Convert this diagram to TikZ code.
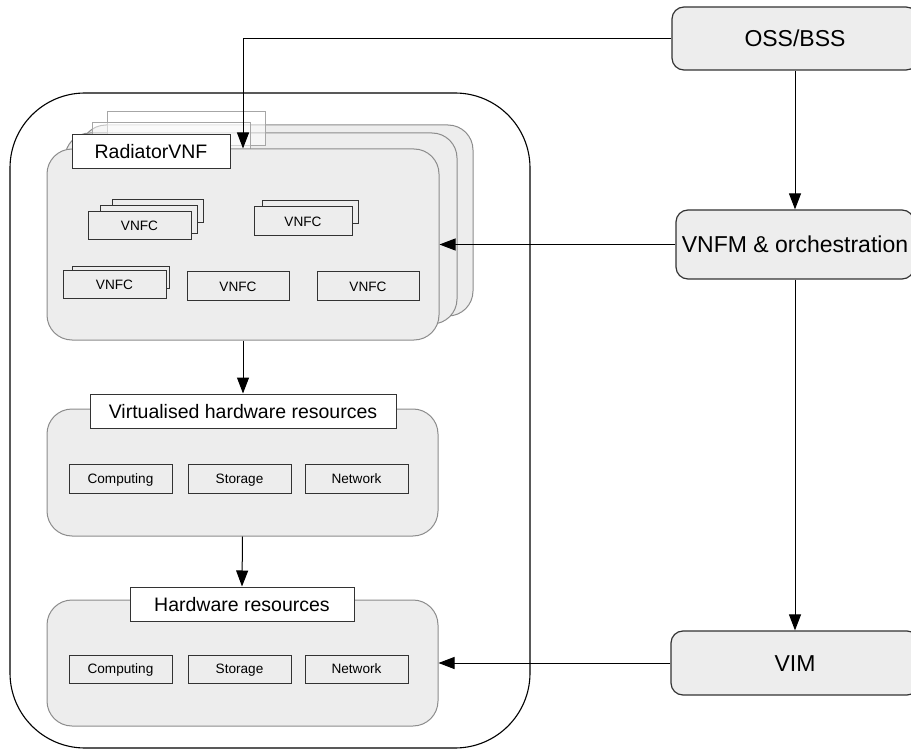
\documentclass[tikz,border=0pt]{standalone}
\usepackage{fontspec}
\setmainfont{Liberation Sans}
\usetikzlibrary{arrows.meta,positioning}
\definecolor{boxgray}{HTML}{EDEDED}
\definecolor{edgegray}{HTML}{8C8C8C}
\tikzset{
  frame/.style={draw=black, line width=1.1pt, rounded corners=75pt, inner sep=0pt},
  layer/.style={draw=edgegray, fill=boxgray, line width=1pt, rounded corners=25pt, inner sep=0pt},
  ctrl/.style={draw=black!80, fill=boxgray, line width=1.2pt, rounded corners=12pt, inner sep=0pt, text height=18pt, text depth=1.5pt, font=\fontsize{23}{27}\selectfont},
  tag/.style={draw=black!80, fill=white, line width=1pt, inner sep=0pt, text height=15.5pt, text depth=1.5pt, font=\fontsize{19.5}{23}\selectfont},
  oldtag/.style={draw=black!35, fill=white, fill opacity=0.5, line width=1pt, inner sep=0pt},
  res/.style={draw=black!80, fill=boxgray, line width=1pt, inner sep=0pt, text height=11pt, text depth=1.2pt, font=\fontsize{13.6}{16}\selectfont},
  link/.style={-{Triangle[length=16pt,width=12pt]}, line width=1pt}
}
\begin{document}
\begin{tikzpicture}[x=1pt,y=-1pt]
\useasboundingbox (0,0) rectangle (911,754);
\node[frame, minimum width=520pt, minimum height=655pt] (nfvi) at (270,420.5) {};
\node[layer, minimum width=392pt, minimum height=191pt] (vnfc) at (277,220.5) {};
\node[layer, minimum width=392pt, minimum height=191pt] (vnfb) at (261,228.5) {};
\node[oldtag, minimum width=158pt, minimum height=34pt] (tagc) at (186,129) {};
\node[oldtag, minimum width=158pt, minimum height=34pt] (tagb) at (171,140) {};
\node[layer, minimum width=392pt, minimum height=191pt] (vnf) at (243,244.5) {};
\node[tag, minimum width=158pt, minimum height=34pt] (vnftag) at (151,152) {RadiatorVNF};
\node[res, minimum width=91pt, minimum height=23pt] (c1b) at (157.5,211.5) {};
\node[res, minimum width=97pt, minimum height=28pt] (c1a) at (148.5,220) {};
\node[res, minimum width=103pt, minimum height=28pt] (c1) at (139.5,226) {VNFC};
\node[res, minimum width=96pt, minimum height=23pt] (c2a) at (310,212.5) {};
\node[res, minimum width=98pt, minimum height=29pt] (c2) at (303,221.5) {VNFC};
\node[res, minimum width=97pt, minimum height=22pt] (c3a) at (120.5,278) {};
\node[res, minimum width=103pt, minimum height=28pt] (c3) at (114.5,285) {VNFC};
\node[res, minimum width=102pt, minimum height=29pt] (c4) at (238,286.5) {VNFC};
\node[res, minimum width=102pt, minimum height=29pt] (c5) at (368,286.5) {VNFC};
\node[layer, minimum width=391pt, minimum height=127pt] (virt) at (242.5,472.5) {};
\node[tag, minimum width=306pt, minimum height=34pt] (virttag) at (243,411) {Virtualised hardware resources};
\node[res, minimum width=103pt, minimum height=29pt] (vcomp) at (120.5,478.5) {Computing};
\node[res, minimum width=103pt, minimum height=29pt] (vstor) at (239.5,478.5) {Storage};
\node[res, minimum width=103pt, minimum height=29pt] (vnet) at (356.5,478.5) {Network};
\node[layer, minimum width=391pt, minimum height=126pt] (hw) at (242.5,663) {};
\node[tag, minimum width=224pt, minimum height=34pt] (hwtag) at (242,604) {Hardware resources};
\node[res, minimum width=103pt, minimum height=28pt] (hcomp) at (120.5,669) {Computing};
\node[res, minimum width=103pt, minimum height=28pt] (hstor) at (239.5,669) {Storage};
\node[res, minimum width=103pt, minimum height=28pt] (hnet) at (356.5,669) {Network};
\node[ctrl, minimum width=246pt, minimum height=63pt] (oss) at (795,38.5) {OSS/BSS};
\node[ctrl, minimum width=238pt, minimum height=69pt] (vnfm) at (795,244.5) {VNFM \& orchestration};
\node[ctrl, minimum width=248pt, minimum height=64pt] (vim) at (795,663) {VIM};
\draw[link] (oss.west) -| (vnf.north);
\draw[link] (oss.south) -- (vnfm.north);
\draw[link] (vnfm.south) -- (vim.north);
\draw[link] (vnfm.west) -- (vnf.east);
\draw[link] (vim.west) -- (hw.east);
\draw[link] (vnf.south) -- (virttag.north);
\draw[link] (virt.south) -- (hwtag.north);
\end{tikzpicture}
\end{document}
